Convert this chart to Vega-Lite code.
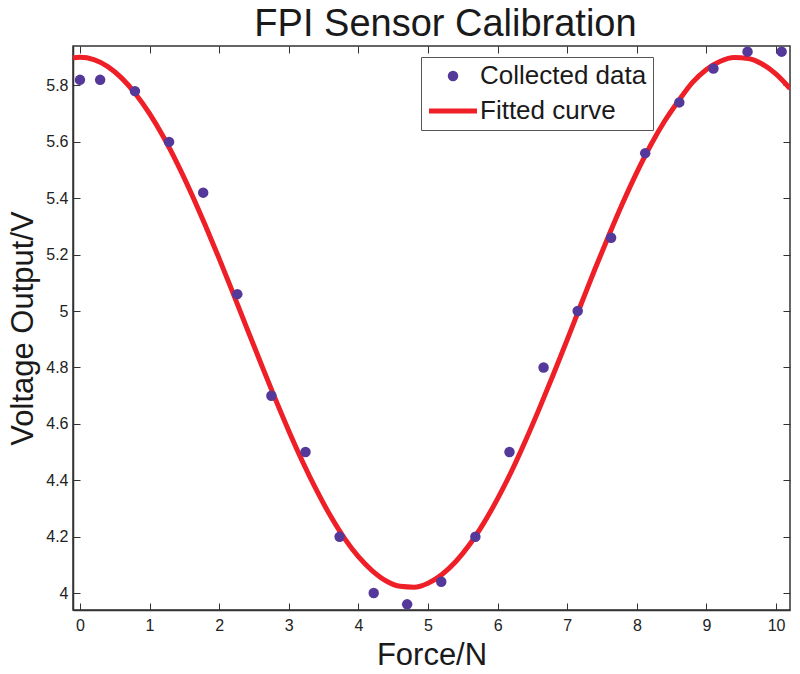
{
  "$schema": "https://vega.github.io/schema/vega-lite/v6.json",
  "width": 717,
  "height": 564,
  "autosize": "none",
  "padding": {"left": 73, "top": 46, "right": 10, "bottom": 64},
  "background": "white",
  "title": {"text": "FPI Sensor Calibration", "fontSize": 38, "font": "Liberation Sans", "fontWeight": "normal", "color": "#1a1a1a", "offset": 2, "anchor": "middle", "dx": 14},
  "config": {
    "view": {"stroke": "#333333", "strokeWidth": 1.5},
    "axis": {
      "grid": false,
      "domainColor": "#333333",
      "domainWidth": 1.5,
      "tickColor": "#333333",
      "tickSize": -7,
      "tickWidth": 1,
      "labelFont": "Liberation Sans",
      "labelFontSize": 16,
      "labelColor": "#222222",
      "titleFont": "Liberation Sans",
      "titleFontSize": 31,
      "titleFontWeight": "normal",
      "titleColor": "#1a1a1a"
    }
  },
  "datasets": {
    "pts": [
      {"force": 0.0, "voltage": 5.82},
      {"force": 0.29, "voltage": 5.82},
      {"force": 0.79, "voltage": 5.78},
      {"force": 1.28, "voltage": 5.6},
      {"force": 1.77, "voltage": 5.42},
      {"force": 2.26, "voltage": 5.06},
      {"force": 2.75, "voltage": 4.7},
      {"force": 3.24, "voltage": 4.5},
      {"force": 3.73, "voltage": 4.2},
      {"force": 4.22, "voltage": 4.0},
      {"force": 4.7, "voltage": 3.96},
      {"force": 5.19, "voltage": 4.04},
      {"force": 5.68, "voltage": 4.2},
      {"force": 6.17, "voltage": 4.5},
      {"force": 6.66, "voltage": 4.8},
      {"force": 7.15, "voltage": 5.0},
      {"force": 7.63, "voltage": 5.26},
      {"force": 8.12, "voltage": 5.56},
      {"force": 8.61, "voltage": 5.74},
      {"force": 9.1, "voltage": 5.86},
      {"force": 9.59, "voltage": 5.92},
      {"force": 10.08, "voltage": 5.92}
    ],
    "fit": [
      {"force": -0.1, "voltage": 5.898},
      {"force": 0.0, "voltage": 5.9},
      {"force": 0.2, "voltage": 5.892},
      {"force": 0.4, "voltage": 5.867},
      {"force": 0.6, "voltage": 5.826},
      {"force": 0.8, "voltage": 5.77},
      {"force": 1.0, "voltage": 5.7},
      {"force": 1.2, "voltage": 5.617},
      {"force": 1.4, "voltage": 5.522},
      {"force": 1.6, "voltage": 5.417},
      {"force": 1.8, "voltage": 5.304},
      {"force": 2.0, "voltage": 5.186},
      {"force": 2.2, "voltage": 5.063},
      {"force": 2.4, "voltage": 4.938},
      {"force": 2.6, "voltage": 4.814},
      {"force": 2.8, "voltage": 4.692},
      {"force": 3.0, "voltage": 4.575},
      {"force": 3.2, "voltage": 4.465},
      {"force": 3.4, "voltage": 4.364},
      {"force": 3.6, "voltage": 4.273},
      {"force": 3.8, "voltage": 4.194},
      {"force": 4.0, "voltage": 4.129},
      {"force": 4.2, "voltage": 4.079},
      {"force": 4.4, "voltage": 4.043},
      {"force": 4.6, "voltage": 4.024},
      {"force": 4.8, "voltage": 4.021},
      {"force": 5.0, "voltage": 4.035},
      {"force": 5.2, "voltage": 4.066},
      {"force": 5.4, "voltage": 4.112},
      {"force": 5.6, "voltage": 4.173},
      {"force": 5.8, "voltage": 4.248},
      {"force": 6.0, "voltage": 4.335},
      {"force": 6.2, "voltage": 4.432},
      {"force": 6.4, "voltage": 4.54},
      {"force": 6.6, "voltage": 4.655},
      {"force": 6.8, "voltage": 4.775},
      {"force": 7.0, "voltage": 4.899},
      {"force": 7.2, "voltage": 5.025},
      {"force": 7.4, "voltage": 5.15},
      {"force": 7.6, "voltage": 5.27},
      {"force": 7.8, "voltage": 5.385},
      {"force": 8.0, "voltage": 5.492},
      {"force": 8.2, "voltage": 5.589},
      {"force": 8.4, "voltage": 5.674},
      {"force": 8.6, "voltage": 5.746},
      {"force": 8.8, "voltage": 5.811},
      {"force": 9.0, "voltage": 5.857},
      {"force": 9.2, "voltage": 5.886},
      {"force": 9.4, "voltage": 5.899},
      {"force": 9.6, "voltage": 5.896},
      {"force": 9.8, "voltage": 5.876},
      {"force": 10.0, "voltage": 5.84},
      {"force": 10.2, "voltage": 5.789}
    ]
  },
  "layer": [
    {
      "data": {"name": "fit"},
      "mark": {"type": "line", "strokeWidth": 5, "interpolate": "monotone", "clip": true},
      "encoding": {
        "x": {"field": "force", "type": "quantitative", "scale": {"domain": [-0.1, 10.2], "nice": false, "zero": false},
              "axis": {"orient": "bottom", "values": [0,1,2,3,4,5,6,7,8,9,10], "format": "d", "title": "Force/N", "labelPadding": 14, "titlePadding": 7}},
        "y": {"field": "voltage", "type": "quantitative", "scale": {"domain": [3.94, 5.94], "nice": false, "zero": false},
              "axis": {"orient": "left", "values": [4,4.2,4.4,4.6,4.8,5,5.2,5.4,5.6,5.8], "format": "~g", "title": "Voltage Output/V", "labelPadding": 12, "titlePadding": 6}},
        "color": {"datum": "Fitted curve", "type": "nominal",
                  "scale": {"domain": ["Collected data", "Fitted curve"], "range": ["#55399a", "#ee1f26"]},
                  "legend": {
                    "orient": "none", "legendX": 348, "legendY": 11, "title": null,
                    "labelFont": "Liberation Sans", "labelFontSize": 26, "labelColor": "#1a1a1a", "labelLimit": 400,
                    "symbolSize": 2304, "strokeColor": "#555555", "fillColor": "white",
                    "padding": 6, "rowPadding": 9, "labelOffset": 14, "symbolOffset": 13,
                    "encode": {"symbols": {"update": {
                      "shape": {"signal": "datum.value === 'Fitted curve' ? 'stroke' : 'circle'"},
                      "size": {"signal": "datum.value === 'Fitted curve' ? 2304 : 110"},
                      "fill": {"signal": "datum.value === 'Fitted curve' ? 'transparent' : '#55399a'"},
                      "stroke": {"signal": "datum.value === 'Fitted curve' ? '#ee1f26' : 'transparent'"},
                      "strokeWidth": {"signal": "datum.value === 'Fitted curve' ? 5 : 0"},
                      "opacity": {"value": 1}
                    }}}
                  }}
      }
    },
    {
      "data": {"name": "pts"},
      "mark": {"type": "point", "filled": true, "size": 110, "opacity": 1},
      "encoding": {
        "x": {"field": "force", "type": "quantitative", "scale": {"domain": [-0.1, 10.2], "nice": false, "zero": false},
              "axis": {"orient": "top", "values": [0,1,2,3,4,5,6,7,8,9,10], "labels": false, "title": null, "domain": false}},
        "y": {"field": "voltage", "type": "quantitative", "scale": {"domain": [3.94, 5.94], "nice": false, "zero": false},
              "axis": {"orient": "right", "values": [4,4.2,4.4,4.6,4.8,5,5.2,5.4,5.6,5.8], "labels": false, "title": null, "domain": false}},
        "color": {"datum": "Collected data", "type": "nominal"}
      }
    }
  ],
  "resolve": {"axis": {"x": "independent", "y": "independent"}}
}
